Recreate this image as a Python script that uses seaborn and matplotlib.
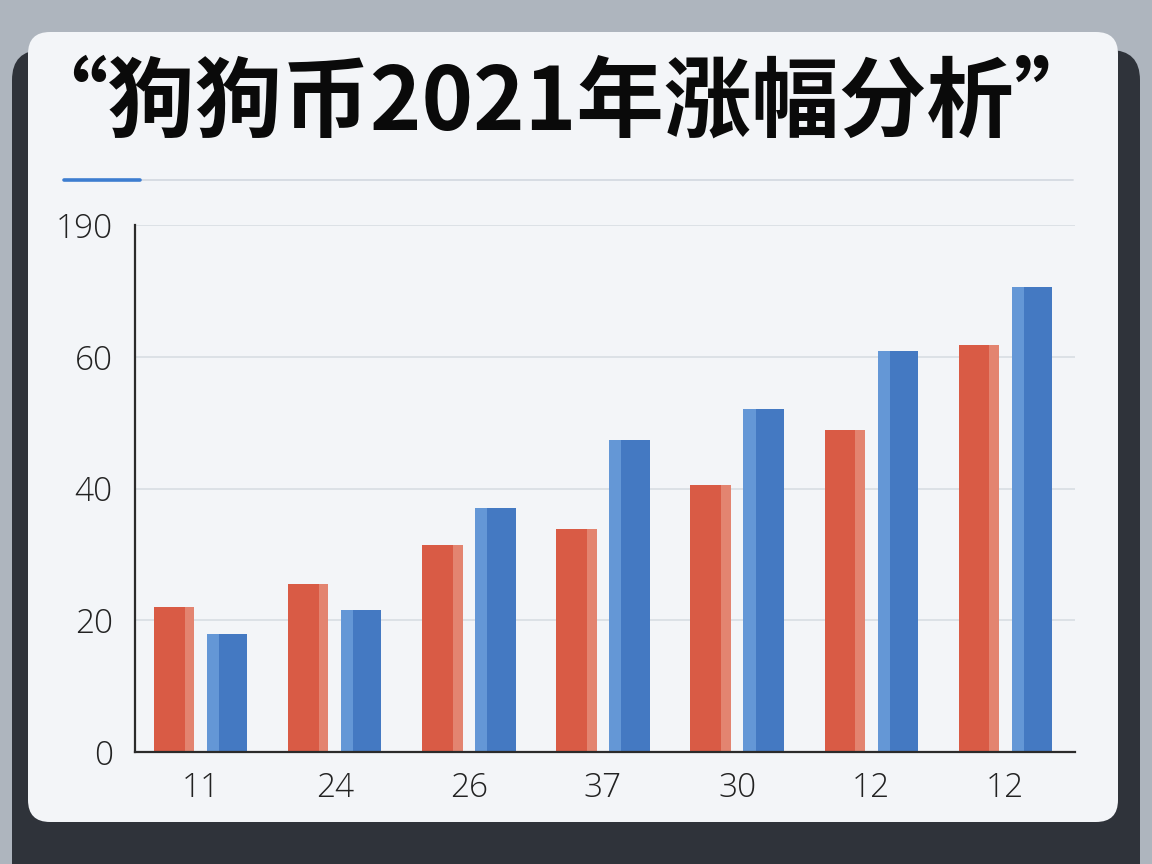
import numpy as np
import pandas as pd
import matplotlib
matplotlib.use("Agg")
import matplotlib.pyplot as plt
import matplotlib.colors as mcolors
import seaborn as sns
from matplotlib.patches import FancyBboxPatch, Rectangle
from matplotlib.lines import Line2D

# datos
title = "“狗狗币2021年涨幅分析”"
x_labels = ["11", "24", "26", "37", "30", "12", "12"]
red_values = [22.0, 25.5, 31.4, 33.9, 40.6, 48.9, 61.8]
blue_values = [17.9, 21.5, 37.0, 47.3, 52.1, 60.8, 70.6]
y_ticks = [0, 20, 40, 60, 80]
y_tick_labels = ["0", "20", "40", "60", "190"]

red = "#d95b45"
blue = "#4479c2"

sns.set_theme(style="white")
plt.rcParams["font.family"] = ["Noto Sans CJK SC", "DejaVu Sans"]

n = len(x_labels)
df = pd.DataFrame({
    "grupo": list(range(n)) * 2,
    "serie": ["red"] * n + ["blue"] * n,
    "valor": red_values + blue_values,
})

W, H = 1152, 864
fig = plt.figure(figsize=(W / 100, H / 100), dpi=100)
fig.patch.set_facecolor("#aeb5be")

# fondo: marco del portatil y tarjeta blanca
fig.patches.append(FancyBboxPatch(
    (12 / W, -0.05), 1128 / W, (864 - 50) / H + 0.05,
    boxstyle="round,pad=0,rounding_size=%f" % (30 / W), mutation_aspect=W / H,
    transform=fig.transFigure, facecolor="#2f333a", edgecolor="none", zorder=0))
fig.patches.append(FancyBboxPatch(
    (28 / W, 1 - 822 / H), 1090 / W, 790 / H,
    boxstyle="round,pad=0,rounding_size=%f" % (22 / W), mutation_aspect=W / H,
    transform=fig.transFigure, facecolor="#f3f5f8", edgecolor="none", zorder=1))

# titulo y linea decorativa
fig.text(20 / W, 1 - 104 / H, title, fontsize=63, fontweight="bold",
         color="#0a0a0a", ha="left", va="center", zorder=3)
fig.lines.append(Line2D([64 / W, 1073 / W], [1 - 180 / H] * 2, transform=fig.transFigure,
                        color="#d5dae1", lw=1.3, zorder=2))
fig.lines.append(Line2D([64 / W, 140 / W], [1 - 180 / H] * 2, transform=fig.transFigure,
                        color="#3d7dd0", lw=2.6, zorder=3))

ax = fig.add_axes([135 / W, 1 - 752 / H, 940 / W, (752 - 225) / H])
ax.set_facecolor("none")
ax.set_zorder(2)

sns.barplot(data=df, x="grupo", y="valor", hue="serie",
            palette={"red": red, "blue": blue}, saturation=1,
            width=0.79, gap=0.24, legend=False, linewidth=0, ax=ax)

# efecto de brillo en las barras
for p in list(ax.patches):
    x0, w, h = p.get_x(), p.get_width(), p.get_height()
    fc = mcolors.to_hex(p.get_facecolor())
    if fc == red:
        ax.add_patch(Rectangle((x0 + 0.76 * w, 0), 0.24 * w, h, facecolor="#e38470",
                               edgecolor="none", linewidth=0, zorder=p.get_zorder() + 0.1))
    else:
        ax.add_patch(Rectangle((x0, 0), 0.3 * w, h, facecolor="#6497d6",
                               edgecolor="none", linewidth=0, zorder=p.get_zorder() + 0.1))

ax.set_xlim(-0.49, n - 1 + 0.52)
ax.set_ylim(0, 80)
ax.set_yticks(y_ticks, y_tick_labels)
ax.set_xticks(range(n), x_labels)
ax.set_xlabel("")
ax.set_ylabel("")

ax.yaxis.grid(True, color="#d8dde3", lw=1.2)
ax.xaxis.grid(False)
ax.set_axisbelow(True)

for s in ["top", "right"]:
    ax.spines[s].set_visible(False)
for s in ["left", "bottom"]:
    ax.spines[s].set_color("#2b2b2b")
    ax.spines[s].set_linewidth(1.6)

ax.tick_params(axis="both", length=0, labelsize=24, colors="#222222")
ax.tick_params(axis="x", pad=14)
ax.tick_params(axis="y", pad=16)
for lab in ax.get_xticklabels() + ax.get_yticklabels():
    lab.set_fontfamily(["Open Sans", "DejaVu Sans"])
    lab.set_fontweight("light")

fig.savefig("out.png", dpi=100, facecolor=fig.get_facecolor())
